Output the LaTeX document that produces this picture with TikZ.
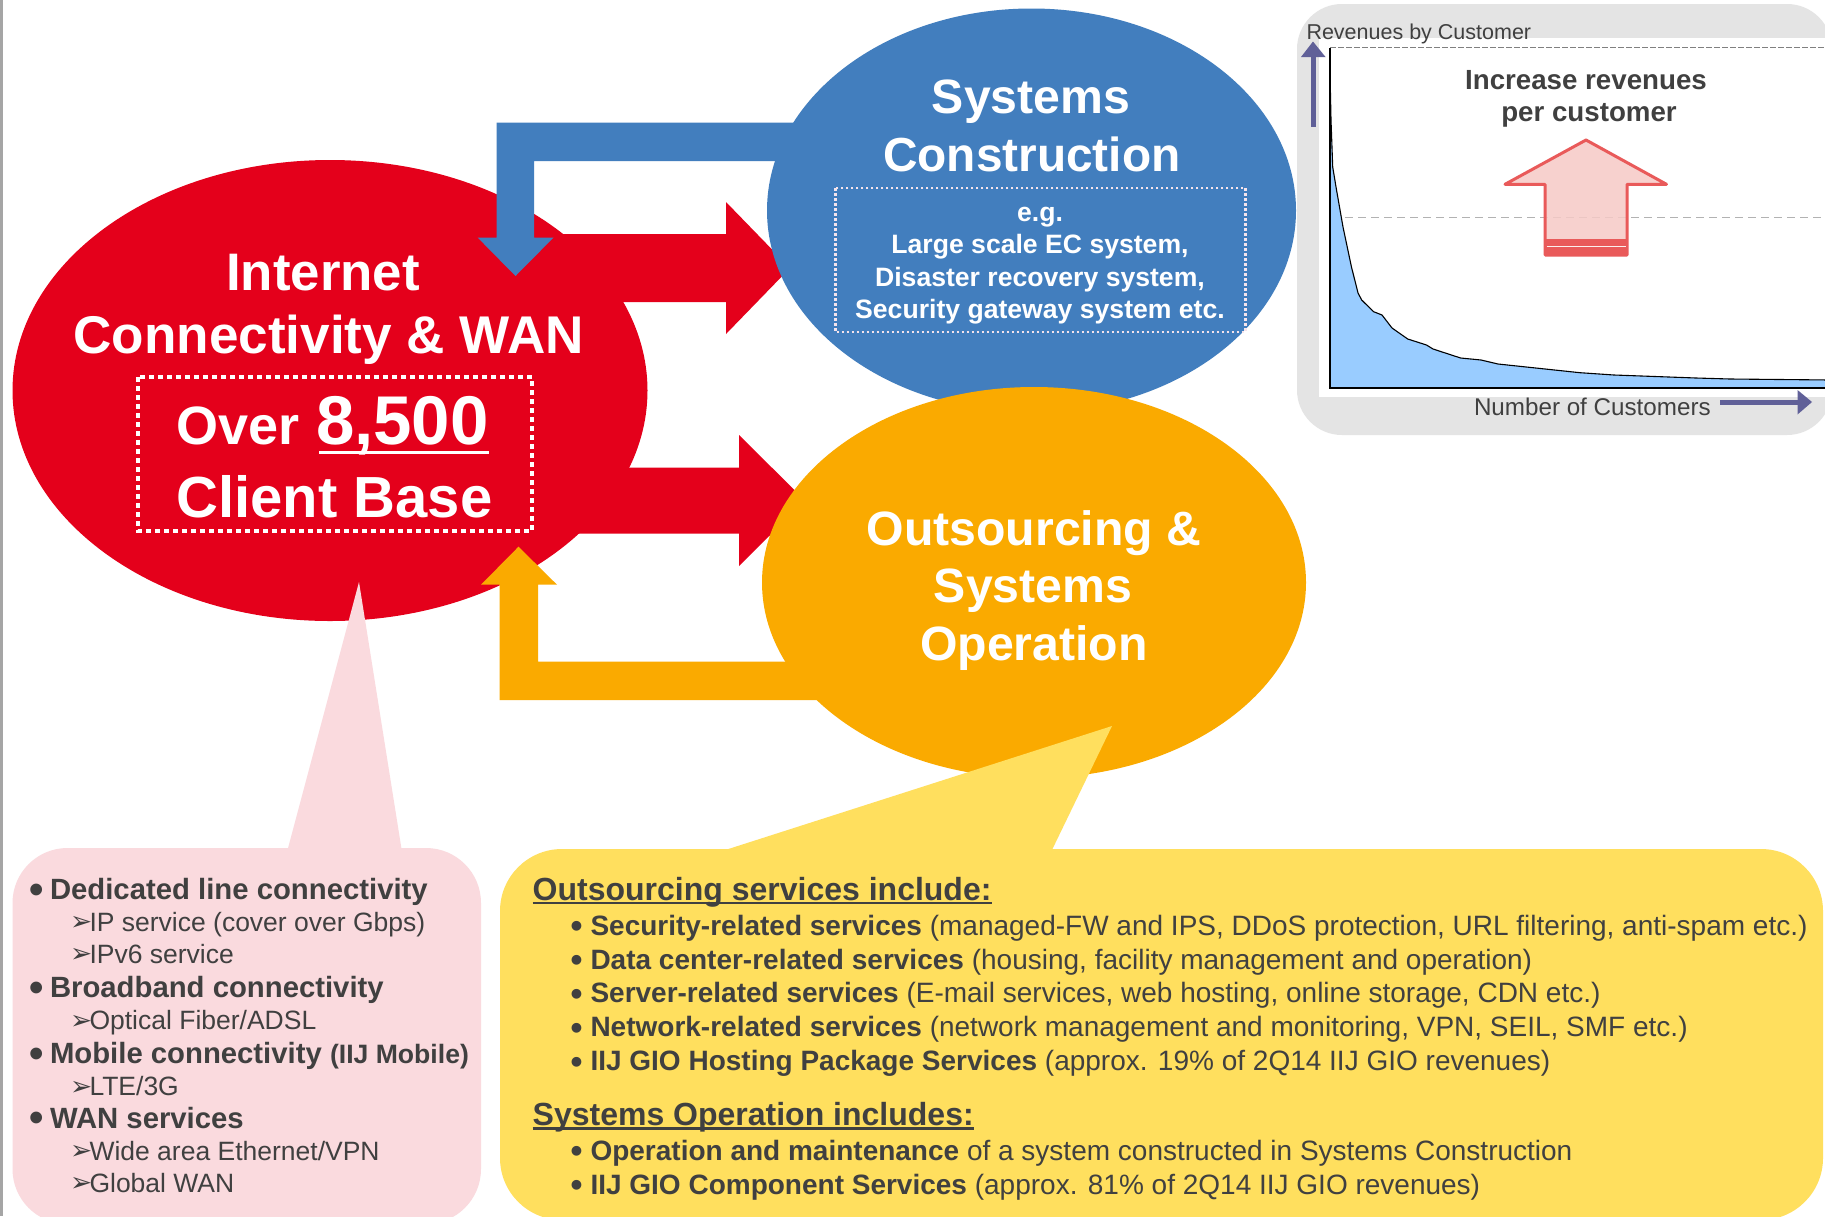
\documentclass[tikz,border=0pt]{standalone}
\usepackage{fontspec}
\setmainfont{Liberation Sans}
\newfontfamily\dejavu{DejaVu Sans}
\usetikzlibrary{shapes.geometric}

\definecolor{netred}{RGB}{228,0,27}
\definecolor{scblue}{RGB}{66,126,190}
\definecolor{osorange}{RGB}{250,170,0}
\definecolor{calloutpink}{RGB}{250,218,222}
\definecolor{calloutyellow}{RGB}{255,223,94}
\definecolor{ink}{RGB}{64,64,64}
\definecolor{panelgray}{RGB}{228,228,228}
\definecolor{axispurple}{RGB}{96,96,152}
\definecolor{uparrowred}{RGB}{233,90,90}
\definecolor{uparrowfill}{RGB}{246,202,198}
\definecolor{areablue}{RGB}{153,204,255}
\definecolor{edgegray}{RGB}{165,165,165}
\definecolor{boxdots}{RGB}{245,228,236}

\newcommand\fsz[1]{\fontsize{#1pt}{#1pt}\selectfont}
% list markers
\newcommand\pinkbul{\makebox[21pt][l]{\fsz{41}\raisebox{-3.6pt}{•}}}
\newcommand\pinkarr{\makebox[19.5pt][l]{\dejavu\fsz{26.5}\raisebox{0.5pt}{➢}}}
\newcommand\yelbul{\makebox[20pt][l]{\fsz{34}\raisebox{-2.6pt}{•}}}

\begin{document}
\begin{tikzpicture}[x=1pt,y=-1pt,
  whitetext/.style={text=white, inner sep=0pt, outer sep=0pt, anchor=base},
  inktext/.style={text=ink, inner sep=0pt, outer sep=0pt, anchor=base west},
  bubble/.style={ellipse, inner sep=0pt, outer sep=0pt, draw=none},
  underbar/.style={ink, line width=2.7pt},
]
\useasboundingbox (0,0) rectangle (1825,1216);
\clip (0,0) rectangle (1825,1216);
\fill[white] (0,0) rectangle (1825,1216);
\fill[edgegray] (0,0) rectangle (3,1216);

% ---------- revenue chart panel ----------
\fill[panelgray, rounded corners=45pt] (1297,4) rectangle (1832,435);
\fill[white] (1319,38) rectangle (1830,397);
\draw[gray, line width=1pt, dash pattern=on 6pt off 2pt] (1330,47.7) -- (1830,47.7);
\draw[gray!60, line width=1pt, dash pattern=on 8pt off 5pt] (1345,217.7) -- (1830,217.7);
\filldraw[fill=areablue, draw=black, line width=1.1pt, line join=round]
  (1330,72) -- (1331,120) -- (1332.7,167) -- (1336,187) -- (1343,227) -- (1351.4,266.7)
  -- (1358,293) -- (1361.7,300) -- (1373.6,311.7) -- (1382,315) -- (1392,328)
  -- (1407.7,339) -- (1426.5,345) -- (1433,349) -- (1460.6,358) -- (1481,360)
  -- (1498,364) -- (1580,372.7) -- (1614,375) -- (1696,378) -- (1730,379) -- (1830,380)
  -- (1830,388) -- (1330,388) -- cycle;
\draw[black, line width=1.5pt] (1330,48) -- (1330,388);
\draw[black, line width=2pt] (1329.3,388) -- (1830,388);

% upward block arrow
\filldraw[draw=uparrowred, fill=uparrowfill, fill opacity=0.85, line width=3pt, line join=round]
  (1586,140) -- (1666.5,184.3) -- (1627,184.3) -- (1627,255) -- (1545,255)
  -- (1545,184.3) -- (1505,184.3) -- cycle;
\fill[uparrowred] (1545,239) rectangle (1627,255);
\draw[white!70!uparrowfill, line width=1.2pt] (1546.5,246.5) -- (1625.5,246.5);

% axis arrows
\fill[axispurple] (1310.5,127) rectangle (1315.5,56);
\fill[axispurple] (1301,57) -- (1313,41.5) -- (1325.5,57) -- cycle;
\fill[axispurple] (1720,399.5) rectangle (1798,405);
\fill[axispurple] (1797.5,390) -- (1812,402) -- (1797.5,414.5) -- cycle;

\node[inktext, font=\fsz{21.5}] (revlabel) at (1306.5,39) {Revenues by Customer};
\node[inktext, font=\fsz{24.2}] (cuslabel) at (1474,415) {Number of Customers};
\node[inktext, anchor=base, font={\bfseries\fsz{27.7}}] (inc1) at (1586,89) {Increase revenues};
\node[inktext, anchor=base, font={\bfseries\fsz{27.7}}] (inc2) at (1589,121.7) {per customer};

% ---------- main bubbles and block arrows ----------
\node[bubble, fill=netred, minimum width=635pt, minimum height=461pt] (net) at (330,390.5) {};
\fill[netred] (520,234) -- (726,234) -- (726,202) -- (790,268) -- (726,334) -- (726,302) -- (520,302) -- cycle;
\fill[netred] (520,467.5) -- (739,467.5) -- (739,435) -- (805,500.5) -- (739,566) -- (739,533.5) -- (520,533.5) -- cycle;
\fill[scblue] (850,122.7) -- (496.6,122.7) -- (496.6,237.5) -- (477.6,237.5) -- (515.5,276)
  -- (553.6,237.5) -- (534,237.5) -- (534,161) -- (850,161) -- cycle;
\fill[osorange] (850,700) -- (499.5,700) -- (499.5,584.7) -- (481,584.7) -- (518.5,546.7)
  -- (557,584.7) -- (538,584.7) -- (538,661.7) -- (850,661.7) -- cycle;
\node[bubble, fill=scblue, minimum width=529pt, minimum height=404pt] (sc) at (1031.5,210.5) {};
\node[bubble, fill=osorange, minimum width=544pt, minimum height=391pt] (os) at (1034,582.5) {};

% red bubble text
\node[whitetext, font={\bfseries\fsz{52.8}}] (net1) at (323,290) {Internet};
\node[whitetext, font={\bfseries\fsz{53.1}}] (net2) at (328.6,353) {Connectivity \& WAN};
\node[whitetext, anchor=base west, font={\bfseries\fsz{54}}] (net3) at (176,444) {Over};
\node[whitetext, anchor=base west, font={\bfseries\fsz{69}}] (net4) at (316,444) {8,500};
\draw[white, line width=3.5pt] ([xshift=3pt,yshift=-8.5pt]net4.base west) -- ([yshift=-8.5pt]net4.base east);
\node[whitetext, font={\bfseries\fsz{58}}] (net5) at (334.5,517) {Client Base};
\draw[white, line width=4pt, dash pattern=on 5pt off 4pt] (137.5,377) rectangle (532,530.5);

% blue bubble text
\node[whitetext, font={\bfseries\fsz{48.2}}] (sc1) at (1031,113) {Systems};
\node[whitetext, font={\bfseries\fsz{47.8}}] (sc2) at (1031.8,171) {Construction};
\draw[boxdots, line width=2.5pt, dash pattern=on 2.5pt off 2.5pt] (835.6,188) rectangle (1245.5,332);
\node[whitetext, font={\bfseries\fsz{26.6}}] (sc3) at (1040,221) {e.g.};
\node[whitetext, font={\bfseries\fsz{26.6}}] (sc4) at (1040,253.5) {Large scale EC system,};
\node[whitetext, font={\bfseries\fsz{26.6}}] (sc5) at (1040,286) {Disaster recovery system,};
\node[whitetext, font={\bfseries\fsz{26.6}}] (sc6) at (1040,318) {Security gateway system etc.};

% orange bubble text
\node[whitetext, font={\bfseries\fsz{48.2}}] (os1) at (1034,545) {Outsourcing \&};
\node[whitetext, font={\bfseries\fsz{48.2}}] (os2) at (1033,602.7) {Systems};
\node[whitetext, font={\bfseries\fsz{48.2}}] (os3) at (1034,660) {Operation};

% ---------- callouts ----------
\fill[calloutpink] (359,582) -- (287,852) -- (402,852) -- cycle;
\fill[calloutpink, rounded corners=55pt] (12.5,848) rectangle (481,1224);
\fill[calloutyellow] (1112,726) -- (719,852) -- (1051,852) -- cycle;
\fill[calloutyellow, rounded corners=62pt] (500,849) rectangle (1823,1220);

% connectivity list
\node[inktext, font={\bfseries\fsz{29.3}}] (pk1) at (29,899.5) {\pinkbul Dedicated line connectivity};
\node[inktext, font=\fsz{26.5}] (pk2) at (70,931) {\pinkarr IP service (cover over Gbps)};
\node[inktext, font=\fsz{26.5}] (pk3) at (70,963) {\pinkarr IPv6 service};
\node[inktext, font={\bfseries\fsz{29.3}}] (pk4) at (29,997.5) {\pinkbul Broadband connectivity};
\node[inktext, font=\fsz{26.5}] (pk5) at (70,1029.5) {\pinkarr Optical Fiber/ADSL};
\node[inktext, font={\bfseries\fsz{29.3}}] (pk6) at (29,1063.5) {\pinkbul Mobile connectivity {\fsz{26.6}(IIJ Mobile)}};
\node[inktext, font=\fsz{26.5}] (pk7) at (70,1095.5) {\pinkarr LTE/3G};
\node[inktext, font={\bfseries\fsz{29.3}}] (pk8) at (29,1128) {\pinkbul WAN services};
\node[inktext, font=\fsz{26.5}] (pk9) at (70,1160) {\pinkarr Wide area Ethernet/VPN};
\node[inktext, font=\fsz{26.5}] (pk10) at (70,1192) {\pinkarr Global WAN};

% outsourcing / operation list
\node[inktext, font={\bfseries\fsz{32}}] (yh1) at (532.7,900) {Outsourcing services include:};
\draw[underbar] ([yshift=-3pt]yh1.base west) -- ([yshift=-3pt]yh1.base east);
\node[inktext, font=\fsz{28}] (yi1) at (570.5,935) {{\bfseries\yelbul Security-related services} (managed-FW and IPS, DDoS protection, URL filtering, anti-spam etc.)};
\node[inktext, font=\fsz{28}] (yi2) at (570.5,969) {{\bfseries\yelbul Data center-related services} (housing, facility management and operation)};
\node[inktext, font=\fsz{28}] (yi3) at (570.5,1002.7) {{\bfseries\yelbul Server-related services} (E-mail services, web hosting, online storage, CDN etc.)};
\node[inktext, font=\fsz{28}] (yi4) at (570.5,1036.7) {{\bfseries\yelbul Network-related services} (network management and monitoring, VPN, SEIL, SMF etc.)};
\node[inktext, font=\fsz{28}] (yi5) at (570.5,1070.7) {{\bfseries\yelbul IIJ GIO Hosting Package Services} (approx. 19\% of 2Q14 IIJ GIO revenues)};
\node[inktext, font={\bfseries\fsz{32}}] (yh2) at (532.7,1125) {Systems Operation includes:};
\draw[underbar] ([yshift=-3.5pt]yh2.base west) -- ([yshift=-3.5pt]yh2.base east);
\node[inktext, font=\fsz{28}] (yi6) at (570.5,1160) {{\bfseries\yelbul Operation and maintenance} of a system constructed in Systems Construction};
\node[inktext, font=\fsz{28}] (yi7) at (570.5,1194.3) {{\bfseries\yelbul IIJ GIO Component Services} (approx. 81\% of 2Q14 IIJ GIO revenues)};
\end{tikzpicture}
\end{document}
